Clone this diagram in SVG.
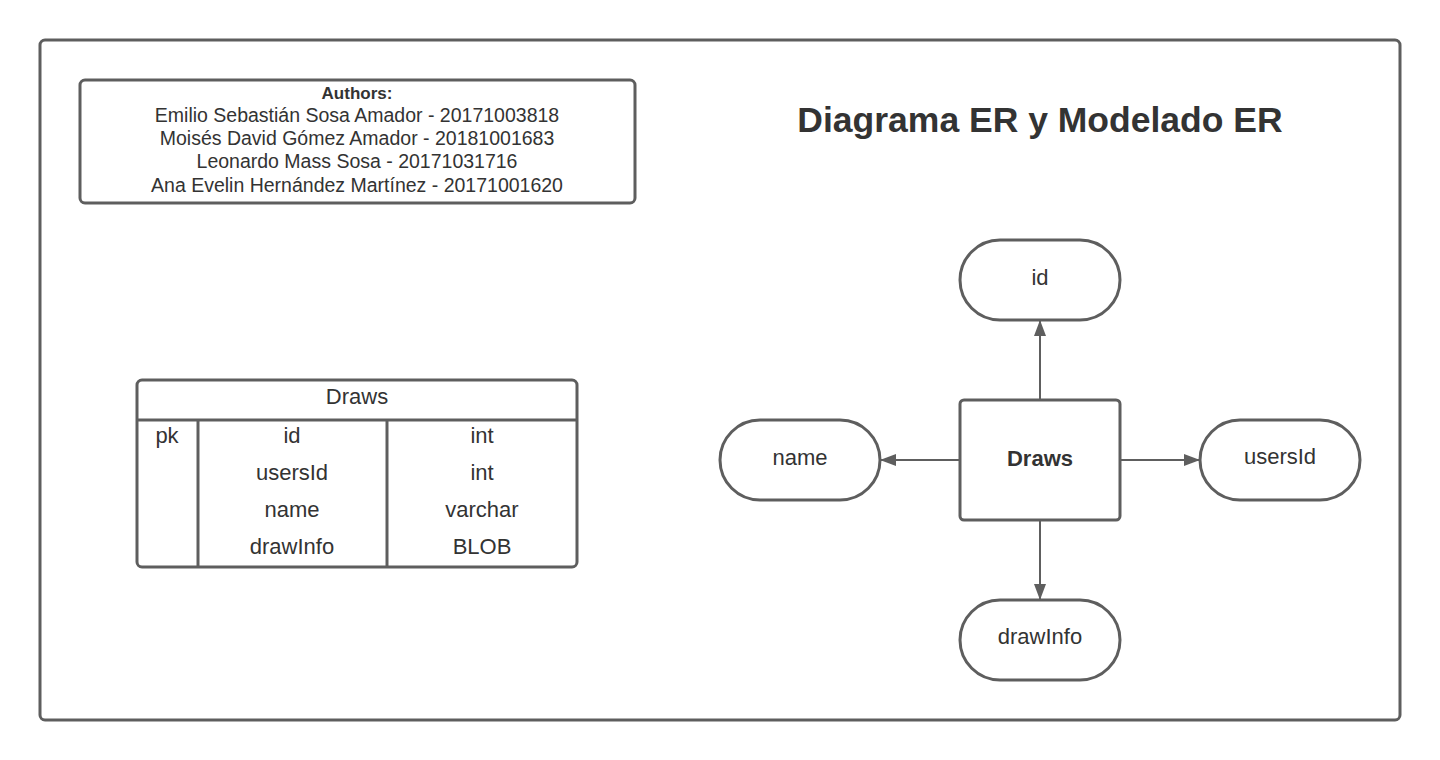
<svg xmlns="http://www.w3.org/2000/svg" width="1440" height="760" viewBox="0 0 1440 760">
<defs>
<style>
.box{fill:#fff;stroke:#5e5e5e;stroke-width:3}
.ln{stroke:#5e5e5e;stroke-width:3;fill:none}
.t{font-family:"Liberation Sans",Arial,sans-serif;fill:#333;text-anchor:middle}
.c{stroke:#5e5e5e;stroke-width:2;fill:none}
</style>
<marker id="ah" viewBox="0 0 16 12" refX="15" refY="6" markerWidth="16" markerHeight="12" markerUnits="userSpaceOnUse" orient="auto">
<path d="M0,0 L16,6 L0,12 Z" fill="#5e5e5e"/>
</marker>
</defs>
<rect width="1440" height="760" fill="#fff"/>
<rect id="frame" x="40" y="40" width="1360" height="680" rx="5" class="box"/>
<g id="authors">
<rect x="80" y="80" width="555" height="123" rx="5" class="box"/>
<text class="t" x="357" y="99" font-size="17" font-weight="bold">Authors:</text>
<text class="t" x="357" y="122" font-size="19.5">Emilio Sebastián Sosa Amador - 20171003818</text>
<text class="t" x="357" y="145" font-size="19.5">Moisés David Gómez Amador - 20181001683</text>
<text class="t" x="357" y="168" font-size="19.5">Leonardo Mass Sosa - 20171031716</text>
<text class="t" x="357" y="192" font-size="19.5">Ana Evelin Hernández Martínez - 20171001620</text>
</g>
<text id="title" class="t" x="1040" y="132" font-size="35.5" font-weight="bold">Diagrama ER y Modelado ER</text>
<g id="table">
<rect x="137" y="380" width="440" height="187" rx="5" class="box"/>
<line x1="137" y1="420" x2="577" y2="420" class="ln"/>
<line x1="198" y1="420" x2="198" y2="567" class="ln"/>
<line x1="387" y1="420" x2="387" y2="567" class="ln"/>
<text class="t" x="357" y="404" font-size="22">Draws</text>
<text class="t" x="167" y="443" font-size="22">pk</text>
<text class="t" x="292" y="443" font-size="22">id</text>
<text class="t" x="292" y="480" font-size="22">usersId</text>
<text class="t" x="292" y="517" font-size="22">name</text>
<text class="t" x="292" y="554" font-size="22">drawInfo</text>
<text class="t" x="482" y="443" font-size="22">int</text>
<text class="t" x="482" y="480" font-size="22">int</text>
<text class="t" x="482" y="517" font-size="22">varchar</text>
<text class="t" x="482" y="554" font-size="22">BLOB</text>
</g>
<g id="connectors">
<line x1="1040" y1="400" x2="1040" y2="321" class="c" marker-end="url(#ah)"/>
<line x1="960" y1="460" x2="881" y2="460" class="c" marker-end="url(#ah)"/>
<line x1="1120" y1="460" x2="1199" y2="460" class="c" marker-end="url(#ah)"/>
<line x1="1040" y1="520" x2="1040" y2="599" class="c" marker-end="url(#ah)"/>
</g>
<g id="draws">
<rect x="960" y="400" width="160" height="120" rx="4" class="box"/>
<text class="t" x="1040" y="466" font-size="22" font-weight="bold">Draws</text>
</g>
<g id="attr-id">
<rect x="960" y="240" width="160" height="80" rx="40" class="box"/>
<text class="t" x="1040" y="285" font-size="22">id</text>
</g>
<g id="attr-name">
<rect x="720" y="420" width="160" height="80" rx="40" class="box"/>
<text class="t" x="800" y="465" font-size="22">name</text>
</g>
<g id="attr-usersId">
<rect x="1200" y="420" width="160" height="80" rx="40" class="box"/>
<text class="t" x="1280" y="464" font-size="22">usersId</text>
</g>
<g id="attr-drawInfo">
<rect x="960" y="600" width="160" height="80" rx="40" class="box"/>
<text class="t" x="1040" y="644" font-size="22">drawInfo</text>
</g>
</svg>
